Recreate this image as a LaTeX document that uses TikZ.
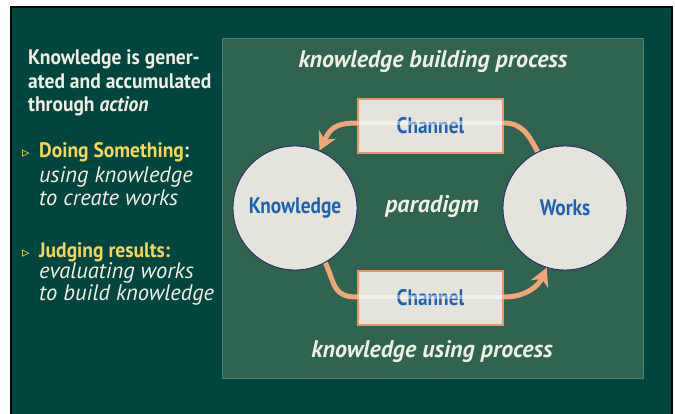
\documentclass[tikz,border=0pt]{standalone}
\usepackage{fontspec}
\setmainfont{PT Sans}
\newfontfamily\symfont{DejaVu Sans}
\newfontfamily\condA[FakeStretch=0.86]{PT Sans}
\newfontfamily\condB[FakeStretch=0.93]{PT Sans}
\usetikzlibrary{arrows.meta}
\pgfdeclarelayer{bglayer}
\pgfdeclarelayer{arrlayer}
\pgfdeclarelayer{toplayer}
\pgfsetlayers{bglayer,arrlayer,main,toplayer}
\definecolor{outerbg}{HTML}{00463F}
\definecolor{panelbg}{HTML}{2E6450}
\definecolor{panelline}{HTML}{557F72}
\definecolor{circfill}{HTML}{E4E4DC}
\definecolor{circline}{HTML}{2B2C6B}
\definecolor{boxline}{HTML}{E8956A}
\definecolor{arrcol}{HTML}{F2A577}
\definecolor{bluetext}{HTML}{1E63B0}
\definecolor{lighttext}{HTML}{F0EFE4}
\definecolor{yellowtext}{HTML}{F5D65C}
\tikzset{
  circ/.style={circle, draw=circline, line width=0.9pt, fill=circfill, minimum size=124pt, inner sep=0pt,
    font=\condA\fontsize{22.5}{24}\selectfont\bfseries, text=bluetext},
  chan/.style={rectangle, draw=boxline, line width=2pt, fill=circfill, minimum width=145pt, minimum height=54pt, inner sep=0pt,
    font=\condA\fontsize{22.5}{24}\selectfont\bfseries, text=bluetext},
  arr/.style={draw=arrcol, line width=5pt, -{Stealth[length=18pt, width=19pt, inset=6pt]}},
  stripe/.style={draw=white, line width=4pt, opacity=0.45},
  paneltext/.style={text=lighttext, font=\fontsize{24}{26}\selectfont\bfseries\itshape, inner sep=0pt},
  headtext/.style={text=lighttext, font=\condB\fontsize{21}{22}\selectfont\bfseries, anchor=base west, inner sep=0pt},
  bullethead/.style={text=yellowtext, font=\condB\fontsize{21}{22}\selectfont\bfseries, anchor=base west, inner sep=0pt},
  bullettext/.style={text=lighttext, font=\fontsize{22.5}{24}\selectfont\itshape, anchor=base west, inner sep=0pt},
  bulletmark/.style={text=yellowtext, font=\symfont\fontsize{15}{16}\selectfont, anchor=base west, inner sep=0pt},
}
\begin{document}
\begin{tikzpicture}[x=1pt, y=-1pt]
\useasboundingbox (0,0) rectangle (675,414);
\begin{pgfonlayer}{bglayer}
\fill[white] (0,0) rectangle (675,414);
\fill[outerbg] (11,7) rectangle (672,414);
\draw[black, line width=2pt] (11,414) -- (11,7) -- (672,7) -- (672,414);
\draw[panelline, fill=panelbg, line width=0.8pt] (222,38) rectangle (643,378);
\end{pgfonlayer}

% left text
\node[headtext] (h1) at (28,65) {Knowledge is gener-};
\node[headtext] (h2) at (28,89) {ated and accumulated};
\node[headtext] (h3) at (28,112) {through \textit{action}};

\node[bulletmark] (m1) at (22,158) {▹};
\node[bullethead] (b1) at (39,158) {Doing Something\textcolor{lighttext}{:}};
\node[bullettext] (b1a) at (39,183) {using knowledge};
\node[bullettext] (b1b) at (39,206) {to create works};

\node[bulletmark] (m2) at (22,258) {▹};
\node[bullethead] (b2) at (39,258) {Judging results:};
\node[bullettext] (b2a) at (39,279) {evaluating works};
\node[bullettext] (b2b) at (39,301) {to build knowledge};

% panel texts
\node[paneltext] (t1) at (433,62) {knowledge building process};
\node[paneltext] (t2) at (432,207) {paradigm};
\node[paneltext] (t3) at (432,352) {knowledge using process};

% circles and channels
\node[circ] (K) at (295,208) {Knowledge};
\node[circ] (W) at (565,208) {Works};
\node[chan] (C1) at (430.5,126) {Channel};
\node[chan] (C2) at (430.5,298) {Channel};

% arrows
\begin{pgfonlayer}{arrlayer}
\draw[arr] (W.116) .. controls +(-10,-20) and +(16,0) .. ([yshift=3pt]C1.east)
  -- ([yshift=3pt]C1.west) .. controls +(-24,0) and +(10,-20) .. (K.67);
\draw[arr] (K.-61) .. controls +(10,22) and +(-24,0) .. ([yshift=1pt]C2.west)
  -- ([yshift=1pt]C2.east) .. controls +(22,0) and +(-8,18) .. (W.-107);
\end{pgfonlayer}
\begin{pgfonlayer}{toplayer}
\draw[stripe] ([yshift=3pt]C1.west) -- ([yshift=3pt]C1.east);
\draw[stripe] ([yshift=1pt]C2.west) -- ([yshift=1pt]C2.east);
\end{pgfonlayer}
\end{tikzpicture}
\end{document}
